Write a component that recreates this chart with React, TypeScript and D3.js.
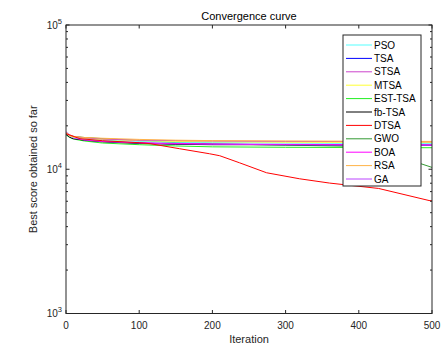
import React from "react";
import * as d3 from "d3";

const iters = [0, 5, 10, 25, 50, 100, 150, 200, 300, 400, 500];
const seriesNames = ["PSO", "TSA", "STSA", "MTSA", "EST-TSA", "fb-TSA", "DTSA", "GWO", "BOA", "RSA", "GA"];
const seriesColors = ["#55ffff", "#0000ff", "#cc44cc", "#ffff33", "#22ee22", "#000000", "#ff0000", "#339933", "#ff00ff", "#ffb347", "#bb44ff"];

const psoVals = [18000, 17000, 16600, 16200, 15900, 15600, 15400, 15300, 15200, 15100, 15050];
const tsaVals = [17600, 16800, 16400, 16000, 15600, 15200, 15000, 14900, 14800, 14750, 14700];
const stsaVals = [18200, 17300, 16900, 16500, 16200, 15900, 15800, 15700, 15600, 15550, 15500];
const mtsaVals = [17800, 17000, 16700, 16400, 16100, 15800, 15600, 15500, 15400, 15350, 15300];
const estVals = [17300, 16600, 16200, 15700, 15200, 14800, 14500, 14300, 14200, 14150, 14100];
const fbVals = [17500, 16700, 16300, 15900, 15500, 15100, 14900, 14800, 14800, 14750, 14700];
const boaVals = [18000, 17000, 16500, 16000, 15600, 15300, 15100, 15000, 14900, 14850, 14800];
const rsaVals = [17900, 17200, 16900, 16600, 16400, 16100, 15900, 15800, 15700, 15650, 15600];
const gaVals = [17700, 16900, 16500, 16000, 15600, 15200, 15000, 14900, 14800, 14700, 14650];

const dtsaIters = [0, 19, 50, 100, 115, 155, 196, 210, 237, 274, 319, 360, 427, 496, 500];
const dtsaVals = [17640, 16290, 15770, 15280, 15040, 13880, 12810, 12410, 11090, 9455, 8590, 8020, 7360, 6070, 6040];

const gwoIters = [0, 5, 10, 25, 50, 100, 150, 200, 300, 400, 420, 460, 483, 500];
const gwoVals = [17500, 17100, 16900, 16600, 16300, 15800, 15300, 15000, 14700, 14400, 14200, 12800, 11000, 10300];

const xTicks = [0, 100, 200, 300, 400, 500];
const yMajor = [1000, 10000, 100000];

export default function App() {
  const W = 444, H = 350;
  const left = 66, right = 432, top = 25, bottom = 313.5;
  const x = d3.scaleLinear().domain([0, 500]).range([left, right]);
  const y = d3.scaleLog().domain([1000, 100000]).range([bottom, top]);

  const series = seriesNames.map((name, i) => {
    let xs = iters, vs: number[] = [];
    if (name === "PSO") vs = psoVals;
    if (name === "TSA") vs = tsaVals;
    if (name === "STSA") vs = stsaVals;
    if (name === "MTSA") vs = mtsaVals;
    if (name === "EST-TSA") vs = estVals;
    if (name === "fb-TSA") vs = fbVals;
    if (name === "BOA") vs = boaVals;
    if (name === "RSA") vs = rsaVals;
    if (name === "GA") vs = gaVals;
    if (name === "DTSA") { xs = dtsaIters; vs = dtsaVals; }
    if (name === "GWO") { xs = gwoIters; vs = gwoVals; }
    return { name, color: seriesColors[i], pts: xs.map((it, j) => [it, vs[j]] as [number, number]) };
  });

  const line = d3.line<[number, number]>().x(d => x(d[0])).y(d => y(d[1]));

  const minor: number[] = [];
  for (let dec = 1000; dec < 100000; dec *= 10) {
    for (let k = 2; k <= 9; k++) minor.push(dec * k);
  }

  const font = "'Liberation Sans', Arial, Helvetica, sans-serif";
  const axisColor = "#262626";
  const legX = 343, legY = 35, legW = 78, legH = 151, legStep = 13.4;
  const drawOrder = ["GWO", "EST-TSA", "TSA", "fb-TSA", "GA", "BOA", "PSO", "MTSA", "STSA", "RSA", "DTSA"];

  return (
    <svg width={W} height={H} style={{ position: "absolute", left: 0, top: 0, background: "#fff" }} fontFamily={font}>
      <rect x={0} y={0} width={W} height={H} fill="#fff" />
      <defs>
        <clipPath id="plotclip"><rect x={left} y={top} width={right - left} height={bottom - top} /></clipPath>
      </defs>
      <g clipPath="url(#plotclip)">
        {drawOrder.map(n => {
          const s = series.find(ss => ss.name === n)!;
          return <path key={n} d={line(s.pts) || ""} fill="none" stroke={s.color} strokeWidth={1} />;
        })}
      </g>
      <rect x={left} y={top} width={right - left} height={bottom - top} fill="none" stroke={axisColor} strokeWidth={1} />
      {xTicks.map(t => (
        <g key={"x" + t}>
          <line x1={x(t)} x2={x(t)} y1={bottom} y2={bottom - 3.5} stroke={axisColor} />
          <line x1={x(t)} x2={x(t)} y1={top} y2={top + 3.5} stroke={axisColor} />
          <text x={x(t)} y={bottom + 15} textAnchor="middle" fontSize={10} fill={axisColor}>{t}</text>
        </g>
      ))}
      {yMajor.map(t => (
        <g key={"y" + t}>
          <line x1={left} x2={left + 3.5} y1={y(t)} y2={y(t)} stroke={axisColor} />
          <line x1={right} x2={right - 3.5} y1={y(t)} y2={y(t)} stroke={axisColor} />
          <text x={left - 4} y={y(t) + 3.5} textAnchor="end" fontSize={10} fill={axisColor}>
            10<tspan dy={-5} fontSize={7.5}>{Math.round(Math.log10(t))}</tspan>
          </text>
        </g>
      ))}
      {minor.map(t => (
        <g key={"m" + t}>
          <line x1={left} x2={left + 2} y1={y(t)} y2={y(t)} stroke={axisColor} />
          <line x1={right} x2={right - 2} y1={y(t)} y2={y(t)} stroke={axisColor} />
        </g>
      ))}
      <text x={(left + right) / 2} y={20} textAnchor="middle" fontSize={11} fill="#000">Convergence curve</text>
      <text x={(left + right) / 2} y={343} textAnchor="middle" fontSize={11} fill={axisColor}>Iteration</text>
      <text transform={`translate(37,${(top + bottom) / 2}) rotate(-90)`} textAnchor="middle" fontSize={11} fill={axisColor}>Best score obtained so far</text>
      <rect x={legX} y={legY} width={legW} height={legH} fill="#fff" stroke={axisColor} strokeWidth={1} />
      {series.map((s, i) => {
        const yy = legY + 10 + i * legStep;
        return (
          <g key={"l" + s.name}>
            <line x1={legX + 3} x2={legX + 29} y1={yy} y2={yy} stroke={s.color} strokeWidth={1} />
            <text x={legX + 31} y={yy + 3.5} fontSize={10} fill="#000">{s.name}</text>
          </g>
        );
      })}
    </svg>
  );
}
